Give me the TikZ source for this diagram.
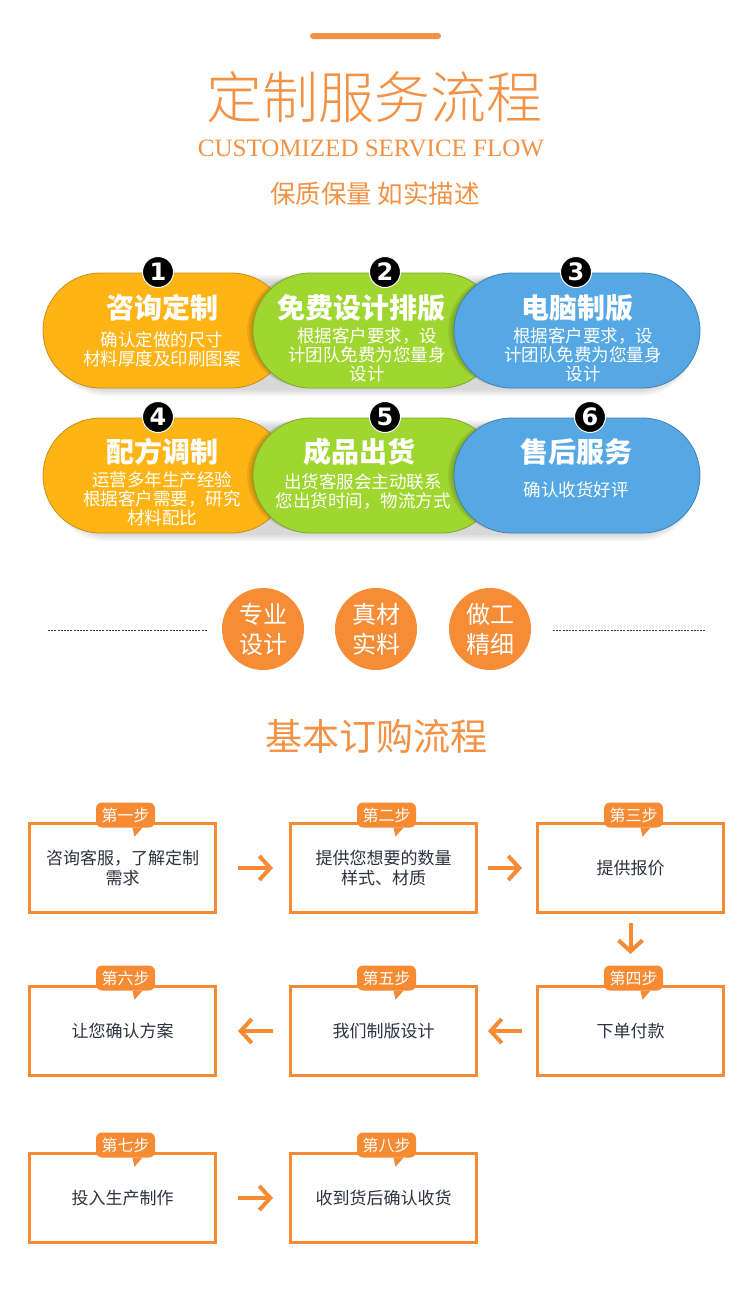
\documentclass[tikz,border=0pt]{standalone}
\usepackage{fontspec}
\setmainfont{Noto Sans CJK SC}
\newfontfamily\cjk{Noto Sans CJK SC}
\IfFontExistsTF{Noto Sans CJK SC Light}{\newfontfamily\cjklight{Noto Sans CJK SC Light}}{\newfontfamily\cjklight{Noto Sans CJK SC}}
\newfontfamily\serifen{Liberation Serif}
\newfontfamily\numfont{DejaVu Sans}
\usetikzlibrary{shapes.misc,arrows.meta}
\definecolor{titleor}{HTML}{F39244}
\definecolor{boxor}{HTML}{F68B33}
\definecolor{circleor}{HTML}{F78C36}
\definecolor{pillor}{HTML}{FDB414}
\definecolor{pillorb}{HTML}{C98D12}
\definecolor{pillgr}{HTML}{9FD630}
\definecolor{pillgrb}{HTML}{7FA828}
\definecolor{pillbl}{HTML}{55A8E4}
\definecolor{pillblb}{HTML}{3F82B5}
\definecolor{steptext}{HTML}{2E3140}
\definecolor{dashgray}{HTML}{3A3A3A}
\tikzset{
  pill/.style={rounded rectangle, minimum width=246pt, minimum height=115pt, inner sep=0pt, line width=0.8pt},
  numcirc/.style={circle, fill=black, draw=white, line width=1pt, minimum size=31pt, inner sep=0pt, text=white, font=\numfont\bfseries\fontsize{24}{24}\selectfont},
  ptitle/.style={text=white, inner sep=0pt, font=\cjk\bfseries\fontsize{28}{30}\selectfont},
  psub/.style={text=white, align=center, inner sep=0pt, font=\cjk\fontsize{17.5}{19}\selectfont},
  stepbox/.style={draw=boxor, line width=3pt, minimum width=186pt, minimum height=89pt, inner sep=0pt, align=center, text=steptext, font=\cjk\fontsize{17}{20}\selectfont},
  steptag/.style={fill=boxor, rounded corners=6pt, minimum width=59pt, minimum height=25pt, inner sep=0pt, text=white, font=\cjk\fontsize{16}{16}\selectfont},
  steparrow/.style={draw=boxor, line width=4pt, -{Straight Barb[length=11pt,width=24pt]}},
  featcirc/.style={circle, fill=circleor, minimum size=82pt, inner sep=0pt, text=white, align=center, font=\cjk\fontsize{24}{30}\selectfont},
  dashln/.style={draw=dashgray, line width=0.8pt, dash pattern=on 2pt off 1.2pt},
  pshadow/.style={fill=black, opacity=0.05, rounded corners=57pt}
}
\begin{document}
\begin{tikzpicture}[x=1pt,y=-1pt]
\useasboundingbox (0,0) rectangle (750,1296);
\fill[white] (0,0) rectangle (750,1296);

% ---------- header ----------
\fill[titleor, rounded corners=3pt] (310,33) rectangle (441,39);
\node[font=\cjklight\fontsize{56}{60}\selectfont, text=titleor, inner sep=0pt] (title) at (374,97) {定制服务流程};
\node[font=\serifen\fontsize{25}{25}\selectfont, text=titleor, inner sep=0pt] (entitle) at (371,148.5) {CUSTOMIZED SERVICE FLOW};
\node[font=\cjk\fontsize{25.5}{27}\selectfont, text=titleor, inner sep=0pt] (subtitle) at (375,194) {保质保量 如实描述};

% ---------- pills row 1 ----------
\foreach \k in {2,4,6,8}{
  \fill[pshadow, opacity=0.04] (50,273+\k) rectangle (696,388+\k);
  \fill[pshadow, opacity=0.04] (50,418+\k) rectangle (696,533+\k);
}
\node[pill, fill=pillor, draw=pillorb] (pill1) at (166,330.5) {};
\foreach \k in {2,4,6}{\fill[pshadow, opacity=0.07] (253-\k,274) rectangle (499-\k,387);}
\node[pill, fill=pillgr, draw=pillgrb] (pill2) at (376,330.5) {};
\foreach \k in {2,4,6}{\fill[pshadow, opacity=0.07] (454-\k,274) rectangle (700-\k,387);}
\node[pill, fill=pillbl, draw=pillblb] (pill3) at (577,330.5) {};

\node[ptitle] (p1t) at (162,308) {咨询定制};
\node[psub] (p1s) at (162,349.5) {确认定做的尺寸\\材料厚度及印刷图案};
\node[ptitle] (p2t) at (361,308) {免费设计排版};
\node[psub] (p2s) at (367,355) {根据客户要求，设\\计团队免费为您量身\\设计};
\node[ptitle] (p3t) at (577,308) {电脑制版};
\node[psub] (p3s) at (583,355) {根据客户要求，设\\计团队免费为您量身\\设计};

\node[numcirc] (n1) at (158,272) {1};
\node[numcirc] (n2) at (385,272) {2};
\node[numcirc] (n3) at (576,272) {3};

% ---------- pills row 2 ----------
\node[pill, fill=pillor, draw=pillorb] (pill4) at (166,475.5) {};
\foreach \k in {2,4,6}{\fill[pshadow, opacity=0.07] (253-\k,419) rectangle (499-\k,532);}
\node[pill, fill=pillgr, draw=pillgrb] (pill5) at (376,475.5) {};
\foreach \k in {2,4,6}{\fill[pshadow, opacity=0.07] (454-\k,419) rectangle (700-\k,532);}
\node[pill, fill=pillbl, draw=pillblb] (pill6) at (577,475.5) {};

\node[ptitle] (p4t) at (162,452) {配方调制};
\node[psub] (p4s) at (162,499) {运营多年生产经验\\根据客户需要，研究\\材料配比};
\node[ptitle] (p5t) at (359,452) {成品出货};
\node[psub] (p5s) at (363,491) {出货客服会主动联系\\您出货时间，物流方式};
\node[ptitle] (p6t) at (576,452) {售后服务};
\node[psub] (p6s) at (576,490) {确认收货好评};

\node[numcirc] (n4) at (158,417) {4};
\node[numcirc] (n5) at (385,417) {5};
\node[numcirc] (n6) at (590,417) {6};

% ---------- feature circles ----------
\node[featcirc] (f1) at (263,629) {专业\\设计};
\node[featcirc] (f2) at (376,629) {真材\\实料};
\node[featcirc] (f3) at (490,629) {做工\\精细};
\coordinate (dlA) at (48,630);
\coordinate (dlB) at (207,630);
\coordinate (drA) at (553,630);
\coordinate (drB) at (706,630);
\draw[dashln] (dlA) -- (dlB);
\draw[dashln] (drA) -- (drB);

% ---------- ordering process ----------
\node[font=\cjk\fontsize{37}{40}\selectfont, text=titleor, inner sep=0pt] (ordtitle) at (376,736) {基本订购流程};

\node[stepbox] (b1) at (122.5,868) {咨询客服，了解定制\\需求};
\node[stepbox] (b2) at (383.5,868) {提供您想要的数量\\样式、材质};
\node[stepbox] (b3) at (630.5,868) {提供报价};
\node[stepbox] (b4) at (630.5,1031) {下单付款};
\node[stepbox] (b5) at (383.5,1031) {我们制版设计};
\node[stepbox] (b6) at (122.5,1031) {让您确认方案};
\node[stepbox] (b7) at (122.5,1198) {投入生产制作};
\node[stepbox] (b8) at (383.5,1198) {收到货后确认收货};

\foreach \b/\t/\lab in {b1/t1/第一步, b2/t2/第二步, b3/t3/第三步, b4/t4/第四步, b5/t5/第五步, b6/t6/第六步, b7/t7/第七步, b8/t8/第八步}{
  \node[steptag] (\t) at ([xshift=3pt,yshift=7pt]\b.north) {\lab};
  \fill[boxor] ([xshift=7pt]\t.south) -- ([xshift=17pt]\t.south) -- ([xshift=9pt,yshift=-9pt]\t.south) -- cycle;
}

\draw[steparrow] ([xshift=21pt]b1.east) -- ([xshift=-16pt]b2.west);
\draw[steparrow] ([xshift=10pt]b2.east) -- ([xshift=-14pt]b3.west);
\draw[steparrow] ([yshift=-9pt]b3.south) -- ([yshift=31pt]b4.north);
\draw[steparrow] ([xshift=-14pt]b4.west) -- ([xshift=10pt]b5.east);
\draw[steparrow] ([xshift=-16pt]b5.west) -- ([xshift=21pt]b6.east);
\draw[steparrow] ([xshift=21pt]b7.east) -- ([xshift=-16pt]b8.west);
\end{tikzpicture}
\end{document}
